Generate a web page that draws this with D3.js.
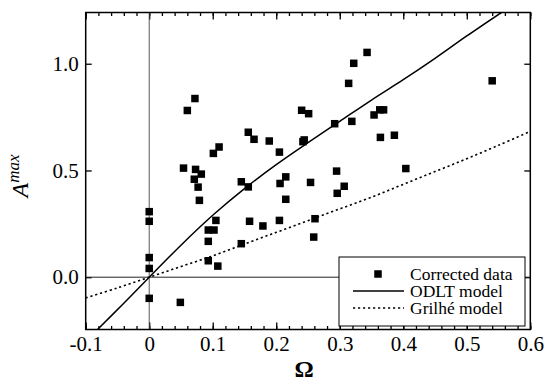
<!DOCTYPE html>
<html>
<head>
<meta charset="utf-8">
<script src="https://cdn.jsdelivr.net/npm/d3@7"></script>
<style>
  body { margin: 0; background: #fff; }
  svg text { font-family: 'Liberation Serif', 'DejaVu Serif', serif; fill: #000; }
</style>
</head>
<body>
<div class="chart"></div>
<script>
// measured data (Omega, A max)
const omega = [0, 0, 0, 0, 0, 0.049, 0.054, 0.060, 0.072, 0.073, 0.071, 0.077, 0.082, 0.079,
  0.101, 0.110, 0.105, 0.093, 0.102, 0.093, 0.093, 0.108, 0.145, 0.145, 0.156, 0.165, 0.156,
  0.158, 0.179, 0.189, 0.205, 0.206, 0.215, 0.215, 0.205, 0.240, 0.251, 0.244, 0.242, 0.254,
  0.261, 0.259, 0.292, 0.295, 0.296, 0.307, 0.314, 0.322, 0.319, 0.343, 0.354, 0.363, 0.369,
  0.364, 0.386, 0.404, 0.540];
const amax = [0.307, 0.262, 0.092, 0.041, -0.099, -0.118, 0.511, 0.781, 0.837, 0.505, 0.459,
  0.422, 0.483, 0.360, 0.580, 0.610, 0.266, 0.221, 0.221, 0.168, 0.077, 0.052, 0.447, 0.157,
  0.679, 0.646, 0.423, 0.262, 0.240, 0.638, 0.586, 0.439, 0.470, 0.365, 0.266, 0.782, 0.766,
  0.643, 0.635, 0.444, 0.274, 0.188, 0.719, 0.497, 0.393, 0.426, 0.908, 1.002, 0.730, 1.053,
  0.760, 0.784, 0.784, 0.655, 0.665, 0.509, 0.920];

// model curves
const odltX = [-0.081, -0.04, 0, 0.05, 0.1, 0.15, 0.2, 0.25, 0.3, 0.35, 0.4, 0.45, 0.5, 0.555];
const odltY = [-0.244, -0.122, 0, 0.150, 0.290, 0.415, 0.527, 0.63, 0.73, 0.83, 0.925, 1.025, 1.13, 1.241];
const grilheX = [-0.1, -0.05, 0, 0.05, 0.1, 0.15, 0.2, 0.25, 0.3, 0.35, 0.4, 0.45, 0.5, 0.55, 0.6];
const grilheY = [-0.097, -0.05, 0, 0.05, 0.1, 0.155, 0.21, 0.265, 0.32, 0.375, 0.435, 0.495, 0.555, 0.618, 0.683];

const xTicks = [-0.1, 0, 0.1, 0.2, 0.3, 0.4, 0.5, 0.6];
const xTickLabels = ['-0.1', '0', '0.1', '0.2', '0.3', '0.4', '0.5', '0.6'];
const yTicks = [0, 0.5, 1.0];
const legendLabels = ['Corrected data', 'ODLT model', 'Grilhé model'];

const width = 545, height = 384;
const pLeft = 85.7, pRight = 530.3, pTop = 12.5, pBottom = 329.5;
const serif = "'Liberation Serif', 'DejaVu Serif', serif";

const x = d3.scaleLinear().domain([-0.1, 0.6]).range([pLeft, pRight]);
const y = d3.scaleLinear().domain([-0.245, 1.24]).range([pBottom, pTop]);

const svg = d3.select('.chart')
  .append('svg')
  .attr('width', width)
  .attr('height', height)
  .attr('font-family', serif);

svg.append('clipPath').attr('id', 'plot')
  .append('rect')
  .attr('x', pLeft).attr('y', pTop)
  .attr('width', pRight - pLeft).attr('height', pBottom - pTop);

const minor = d3.range(-0.1, 0.6001, 0.02);

// minor ticks, bottom and top
svg.append('g')
  .attr('transform', `translate(0,${pBottom})`)
  .call(d3.axisBottom(x).tickValues(minor).tickSize(-3.5).tickFormat(''))
  .call(g => g.select('.domain').remove());
svg.append('g')
  .attr('transform', `translate(0,${pTop})`)
  .call(d3.axisTop(x).tickValues(minor).tickSize(-3.5).tickFormat(''))
  .call(g => g.select('.domain').remove());

// major x ticks + labels
svg.append('g')
  .attr('transform', `translate(0,${pBottom})`)
  .call(d3.axisBottom(x).tickValues(xTicks).tickSize(-7).tickPadding(7)
    .tickFormat((d, i) => xTickLabels[i]))
  .call(g => g.select('.domain').remove())
  .call(g => g.attr('font-family', serif).attr('font-size', 21));
svg.append('g')
  .attr('transform', `translate(0,${pTop})`)
  .call(d3.axisTop(x).tickValues(xTicks).tickSize(-7).tickFormat(''))
  .call(g => g.select('.domain').remove());

// y ticks
svg.append('g')
  .attr('transform', `translate(${pLeft},0)`)
  .call(d3.axisLeft(y).tickValues(yTicks).tickSize(-6).tickPadding(7).tickFormat(d3.format('.1f')))
  .call(g => g.select('.domain').remove())
  .call(g => g.attr('font-family', serif).attr('font-size', 21));
svg.append('g')
  .attr('transform', `translate(${pRight},0)`)
  .call(d3.axisRight(y).tickValues(yTicks).tickSize(-6).tickFormat(''))
  .call(g => g.select('.domain').remove());

svg.selectAll('.tick line').attr('stroke', '#000').attr('stroke-width', 1.3);

// zero lines
svg.append('line')
  .attr('x1', x(0)).attr('x2', x(0))
  .attr('y1', pTop).attr('y2', pBottom)
  .attr('stroke', '#444').attr('stroke-width', 0.9);
svg.append('line')
  .attr('x1', pLeft).attr('x2', pRight)
  .attr('y1', y(0)).attr('y2', y(0))
  .attr('stroke', '#222').attr('stroke-width', 1);

const line = d3.line().x(d => x(d[0])).y(d => y(d[1])).curve(d3.curveCatmullRom);
const plot = svg.append('g').attr('clip-path', 'url(#plot)');

plot.append('path')
  .attr('d', line(odltX.map((v, i) => [v, odltY[i]])))
  .attr('fill', 'none').attr('stroke', '#000').attr('stroke-width', 1.5);
plot.append('path')
  .attr('d', line(grilheX.map((v, i) => [v, grilheY[i]])))
  .attr('fill', 'none').attr('stroke', '#000').attr('stroke-width', 1.6)
  .attr('stroke-dasharray', '2.2,2.8');

const sq = 7.5;
plot.selectAll('.pt')
  .data(omega.map((v, i) => [v, amax[i]]))
  .enter()
  .append('rect')
  .attr('class', 'pt')
  .attr('x', d => x(d[0]) - sq / 2)
  .attr('y', d => y(d[1]) - sq / 2)
  .attr('width', sq).attr('height', sq)
  .attr('fill', '#000');

// legend
const lg = svg.append('g');
lg.append('rect')
  .attr('x', 339).attr('y', 257).attr('width', 186).attr('height', 69)
  .attr('fill', '#fff').attr('stroke', '#000').attr('stroke-width', 1);
lg.append('rect')
  .attr('x', 378 - sq / 2).attr('y', 274 - sq / 2).attr('width', sq).attr('height', sq)
  .attr('fill', '#000');
lg.append('line').attr('x1', 353).attr('x2', 404).attr('y1', 291).attr('y2', 291)
  .attr('stroke', '#000').attr('stroke-width', 1.5);
lg.append('line').attr('x1', 353).attr('x2', 404).attr('y1', 308).attr('y2', 308)
  .attr('stroke', '#000').attr('stroke-width', 1.6).attr('stroke-dasharray', '2.2,2.8');
lg.selectAll('.lt')
  .data(legendLabels)
  .enter()
  .append('text')
  .attr('x', 410)
  .attr('y', (d, i) => 280 + i * 17)
  .attr('font-size', 17.5)
  .text(d => d);

// frame
svg.append('rect')
  .attr('x', pLeft).attr('y', pTop)
  .attr('width', pRight - pLeft).attr('height', pBottom - pTop)
  .attr('fill', 'none').attr('stroke', '#000').attr('stroke-width', 1.5);

// axis titles
svg.append('text')
  .attr('x', 304).attr('y', 377)
  .attr('text-anchor', 'middle')
  .attr('font-size', 24)
  .attr('font-weight', 'bold')
  .text('Ω');

const yt = svg.append('text')
  .attr('transform', 'translate(28,176) rotate(-90)')
  .attr('text-anchor', 'middle')
  .attr('font-style', 'italic');
yt.append('tspan').attr('font-size', 24).text('A');
yt.append('tspan').attr('font-size', 17).attr('dy', -9).text('max');
</script>
</body>
</html>
